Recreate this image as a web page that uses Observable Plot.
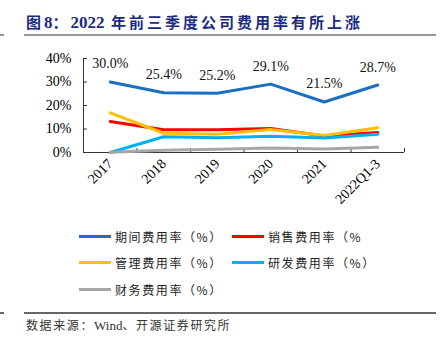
<!DOCTYPE html>
<html><head><meta charset="utf-8">
<script src="https://cdn.jsdelivr.net/npm/d3@7"></script>
<script src="https://cdn.jsdelivr.net/npm/@observablehq/plot@0.6"></script>
<style>
body{margin:0;background:#fff;}
#wrap{position:relative;width:448px;height:350px;overflow:hidden;background:#fff;}
.abs{position:absolute;}
#title{left:26px;top:11px;font:bold 15px "Noto Sans CJK SC",sans-serif;letter-spacing:3px;color:#1c2a80;white-space:nowrap;line-height:22px;}
#title .num{font-family:"Liberation Serif",serif;font-size:17px;letter-spacing:0;}
.hr{position:absolute;height:2px;background:#9a9a9a;}
.leg{position:absolute;display:flex;align-items:center;font:12px "Noto Sans CJK SC",sans-serif;letter-spacing:1.6px;color:#222;white-space:nowrap;}
.sw{width:32px;height:3px;margin-right:4px;}
#src{left:26px;top:316px;font:12px "Noto Sans CJK SC",sans-serif;letter-spacing:1.6px;color:#333;white-space:nowrap;line-height:18px;}
#chart{left:0;top:40px;}
</style></head>
<body><div id="wrap">
<div id="title" class="abs">图<span class="num">8</span>：<span class="num">2022</span> 年前三季度公司费用率有所上涨</div>
<div class="hr" style="left:0;width:4px;top:34px;"></div>
<div class="hr" style="left:24px;width:412px;top:34px;"></div>
<div id="chart" class="abs"></div>
<div id="legend"></div>
<div class="hr" style="left:0;width:4px;top:312px;background:#666;"></div>
<div class="hr" style="left:24px;width:412px;top:312px;background:#666;"></div>
<div id="src" class="abs">数据来源：<span style="font-family:'Liberation Serif',serif;letter-spacing:0;font-size:13px">Wind</span>、开源证券研究所</div>
</div>
<script>
const categories = ["2017","2018","2019","2020","2021","2022Q1-3"];
const seriesNames = ["期间费用率（%）","销售费用率（%","管理费用率（%）","研发费用率（%）","财务费用率（%）"];
const periodRate = [30.0,25.4,25.2,29.1,21.5,28.7];
const salesRate  = [13.2,9.7,9.7,10.2,7.0,8.5];
const adminRate  = [16.9,8.2,7.8,9.8,7.2,10.5];
const rdRate     = [0.0,6.7,6.3,6.9,6.2,7.8];
const finRate    = [0.1,1.0,1.4,1.9,1.5,2.2];
const yTicks = [0,10,20,30,40];

const seriesValues = [periodRate, salesRate, adminRate, rdRate, finRate];
const colors = ["#1a6fc0","#ff0000","#ffc000","#00b0f0","#a6a6a6"];

const rows = [];
seriesValues.forEach((vals, s) => vals.forEach((v, i) => rows.push({series: seriesNames[s], i, v})));
const idx = categories.map((c, i) => i);
const boundaries = categories.map((c, i) => i + 0.5);
const axisColor = "#333";

const chart = Plot.plot({
  width: 448, height: 175,
  marginTop: 18, marginBottom: 63, marginLeft: 83, marginRight: 44,
  style: {fontFamily: "'Liberation Serif','Times New Roman',serif", fontSize: "14px", color: "#000", background: "transparent"},
  x: {type: "linear", domain: [-0.5, categories.length - 0.5], label: null},
  y: {domain: [0, 40], label: null},
  color: {domain: seriesNames, range: colors},
  marks: [
    Plot.ruleY([0], {stroke: axisColor}),
    Plot.ruleX([-0.5], {stroke: axisColor}),
    Plot.tickY(yTicks, {y: d => d, stroke: axisColor, insetRight: 317}),
    Plot.tickX(boundaries, {x: d => d, stroke: axisColor, insetTop: 90}),
    Plot.axisY({ticks: yTicks, tickFormat: d => d + "%", tickSize: 0, tickPadding: 12, label: null}),
    Plot.axisX({ticks: idx, tickFormat: i => categories[i], tickRotate: -45, tickSize: 0, tickPadding: 9, label: null}),
    Plot.line(rows, {x: "i", y: "v", z: "series", stroke: "series", strokeWidth: 3, curve: "linear"}),
    Plot.text(periodRate, {x: (d, i) => i, y: d => d, text: d => d.toFixed(1) + "%", dy: -18, fontSize: 14, fill: "#111"})
  ]
});
document.getElementById("chart").appendChild(chart);

const legendPos = [[79,236],[232,236],[79,262],[232,262],[79,289]];
const lg = document.getElementById("legend");
seriesNames.forEach((n, s) => {
  const d = document.createElement("div");
  d.className = "leg";
  d.style.left = legendPos[s][0] + "px";
  d.style.top = (legendPos[s][1] - 9) + "px";
  d.style.height = "18px";
  d.innerHTML = `<div class="sw" style="background:${colors[s]}"></div><span>${n}</span>`;
  lg.appendChild(d);
});
</script>
</body></html>
